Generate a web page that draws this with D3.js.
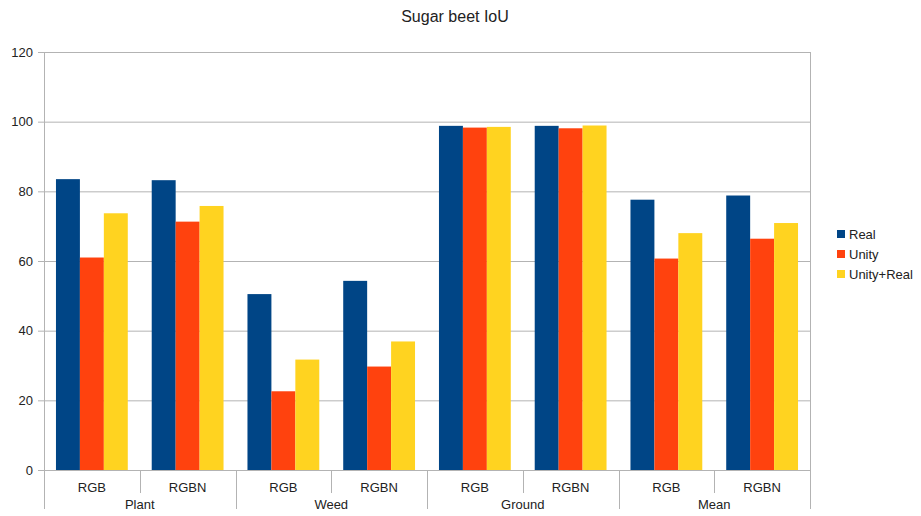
<!DOCTYPE html>
<html>
<head>
<meta charset="utf-8">
<script src="https://cdn.jsdelivr.net/npm/d3@7"></script>
<style>
  html, body { margin: 0; padding: 0; background: #fff; }
  svg { display: block; font-family: "Liberation Sans", Arial, sans-serif; }
</style>
</head>
<body>
<svg id="chart" width="921" height="516"></svg>
<script>
// Chart data
const groups = ["Plant", "Weed", "Ground", "Mean"];
const inputs = ["RGB", "RGBN"];
const seriesNames = ["Real", "Unity", "Unity+Real"];
const realValues      = [83.5, 83.2, 50.5, 54.3, 98.8, 98.8, 77.6, 78.8];
const unityValues     = [61.0, 71.3, 22.6, 29.7, 98.3, 98.1, 60.7, 66.4];
const unityRealValues = [73.7, 75.8, 31.7, 36.9, 98.5, 98.9, 68.0, 70.9];
const yTicks = [0, 20, 40, 60, 80, 100, 120];
const colors = ["#004586", "#ff420e", "#ffd320"];

(function () {
  const svg = d3.select("#chart");
  const plotLeft = 44, plotRight = 810, plotTop = 52, plotBottom = 470;

  // Category slots: group x input
  const slots = [];
  groups.forEach(g => inputs.forEach(i => slots.push({ group: g, input: i, key: g + "|" + i })));
  const allSeries = [realValues, unityValues, unityRealValues];

  const x = d3.scaleBand().domain(slots.map(s => s.key)).range([plotLeft, plotRight]).padding(0);
  const xs = d3.scaleBand().domain(seriesNames).range([0, x.bandwidth()]).paddingInner(0).paddingOuter(0.5);
  const y = d3.scaleLinear().domain([0, 120]).range([plotBottom, plotTop]);

  const gridColor = "#b3b3b3";

  // Horizontal grid
  svg.append("g").selectAll("line").data(yTicks).join("line")
    .attr("x1", plotLeft - 6).attr("x2", plotRight)
    .attr("y1", d => y(d) + 0.5).attr("y2", d => y(d) + 0.5)
    .attr("stroke", gridColor).attr("stroke-width", 1);

  // Right border of plot
  svg.append("line").attr("x1", plotRight + 0.5).attr("x2", plotRight + 0.5)
    .attr("y1", plotTop).attr("y2", plotBottom).attr("stroke", gridColor);

  // Y tick labels
  svg.append("g").selectAll("text").data(yTicks).join("text")
    .attr("x", 33).attr("y", d => y(d) + 4.5)
    .attr("text-anchor", "end").attr("font-size", 13).attr("fill", "#222")
    .text(d => d);

  // Bars
  const barG = svg.append("g");
  slots.forEach((s, i) => {
    seriesNames.forEach((name, k) => {
      const v = allSeries[k][i];
      barG.append("rect")
        .attr("x", x(s.key) + xs(name))
        .attr("y", y(v))
        .attr("width", xs.bandwidth())
        .attr("height", y(0) - y(v))
        .attr("fill", colors[k]);
    });
  });

  // Y axis line
  svg.append("line").attr("x1", plotLeft + 0.5).attr("x2", plotLeft + 0.5)
    .attr("y1", plotTop).attr("y2", 509).attr("stroke", gridColor);

  // Sub-category dividers and labels
  slots.forEach((s, i) => {
    const x0 = x(s.key);
    if (i > 0) {
      const isGroupEdge = i % inputs.length === 0;
      svg.append("line").attr("x1", Math.round(x0) + 0.5).attr("x2", Math.round(x0) + 0.5)
        .attr("y1", plotBottom).attr("y2", isGroupEdge ? 509 : 493)
        .attr("stroke", gridColor);
    }
    svg.append("text")
      .attr("x", x0 + x.bandwidth() / 2).attr("y", 492)
      .attr("text-anchor", "middle").attr("font-size", 13).attr("fill", "#222")
      .text(s.input);
  });
  svg.append("line").attr("x1", plotRight + 0.5).attr("x2", plotRight + 0.5)
    .attr("y1", plotBottom).attr("y2", 509).attr("stroke", gridColor);

  // Group labels
  groups.forEach(g => {
    const first = x(g + "|" + inputs[0]);
    const last = x(g + "|" + inputs[inputs.length - 1]) + x.bandwidth();
    svg.append("text")
      .attr("x", (first + last) / 2).attr("y", 509)
      .attr("text-anchor", "middle").attr("font-size", 13).attr("fill", "#222")
      .text(g);
  });

  // Title
  svg.append("text").attr("x", 455).attr("y", 22)
    .attr("text-anchor", "middle").attr("font-size", 16).attr("fill", "#222")
    .text("Sugar beet IoU");

  // Legend
  const legend = svg.append("g");
  seriesNames.forEach((name, k) => {
    const cy = 234 + k * 20;
    legend.append("rect").attr("x", 837).attr("y", cy - 4).attr("width", 8).attr("height", 8)
      .attr("fill", colors[k]);
    legend.append("text").attr("x", 849).attr("y", cy + 5)
      .attr("font-size", 13).attr("fill", "#222").text(name);
  });
})();
</script>
</body>
</html>
